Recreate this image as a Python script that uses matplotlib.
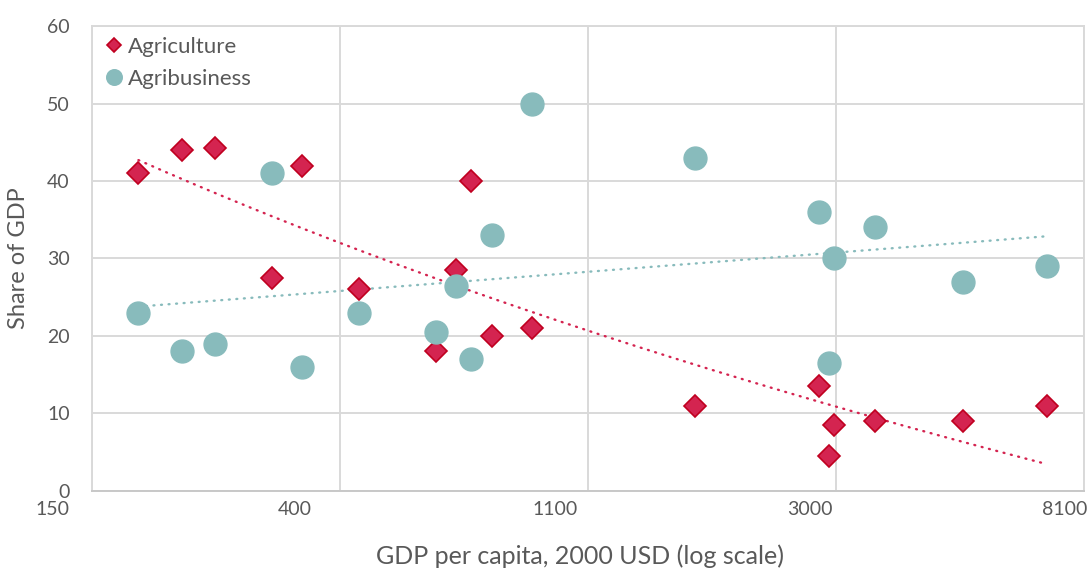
import matplotlib.pyplot as plt
import matplotlib.transforms as mtransforms
import numpy as np

plt.rcParams['font.family'] = ['Lato', 'DejaVu Sans']

# GDP per capita (2000 USD) for each country, shared by both series
gdp = [179, 213, 244, 307, 346, 436, 594, 644, 684, 745, 875,
       1688, 2783, 2899, 2957, 3488, 4974, 6980]
agriculture = [41, 44, 44.2, 27.5, 42, 26, 18, 28.5, 40, 20, 21,
               11, 13.5, 4.5, 8.5, 9, 9, 11]
agribusiness = [23, 18, 19, 41, 16, 23, 20.5, 26.5, 17, 33, 50,
                43, 36, 16.5, 30, 34, 27, 29]

# axis is ln(GDP) from 5 to 9, labelled with rounded exp values
log_ticks = [5, 6, 7, 8, 9]
xticklabels = ['150', '400', '1100', '3000', '8100']
label_shift_px = [-39, -45, -33, -26, -19]

red = '#D42450'
red_edge = '#C00020'
teal = '#88BBBC'
txt = '#595959'
grid = '#D9D9D9'

fig = plt.figure(figsize=(10.92, 5.68), dpi=100)
ax = fig.add_axes([0.0842, 0.1356, 0.9085, 0.8186])

u = np.log(np.array(gdp, dtype=float))
ya = np.array(agriculture)
yb = np.array(agribusiness)

# Excel trendlines on the plotted x (= ln GDP): logarithmic for agriculture,
# linear for agribusiness
us = np.linspace(u.min(), u.max(), 200)
pa = np.polyfit(np.log(u), ya, 1)
ax.plot(us, np.polyval(pa, np.log(us)), color=red, lw=1.7, dashes=(0.4, 2.8),
        dash_capstyle='round', zorder=2)
pb = np.polyfit(u, yb, 1)
ax.plot(us, np.polyval(pb, us), color=teal, lw=1.7, dashes=(0.4, 2.8),
        dash_capstyle='round', zorder=2)

ax.plot(u, ya, 'D', ms=11, mfc=red, mec=red_edge, mew=1.2, ls='none',
        label='Agriculture', zorder=3)
ax.plot(u, yb, 'o', ms=16.5, mfc=teal, mec=teal, ls='none',
        label='Agribusiness', zorder=3)

ax.set_xlim(log_ticks[0], log_ticks[-1])
ax.set_ylim(0, 60)
ax.set_xticks(log_ticks)
ax.set_xticklabels(xticklabels)
ax.set_yticks(range(0, 61, 10))

ax.grid(True, color=grid, lw=1.4)
ax.set_axisbelow(True)
for s in ax.spines.values():
    s.set_color(grid)
    s.set_linewidth(1.4)
ax.spines['bottom'].set_color('#C8C8C8')
ax.tick_params(length=0, labelsize=14, colors=txt)
ax.tick_params(axis='y', pad=16)
ax.tick_params(axis='x', pad=7)

# Excel puts the x tick labels slightly left of their gridlines
for lab, dx in zip(ax.get_xticklabels(), label_shift_px):
    lab.set_transform(lab.get_transform() +
                      mtransforms.ScaledTranslation(dx / 100, 0, fig.dpi_scale_trans))

ax.set_xlabel('GDP per capita, 2000 USD (log scale)', fontsize=18, color=txt)
ax.xaxis.set_label_coords(0.492, -0.115)
ax.set_ylabel('Share of GDP', fontsize=17, color=txt)
ax.yaxis.set_label_coords(-0.063, 0.5)

leg = ax.legend(loc='upper left', bbox_to_anchor=(-0.011, 1.02), frameon=False,
                fontsize=16, handletextpad=0.0, handlelength=1.2,
                labelspacing=0.55, markerscale=0.68)
for t in leg.get_texts():
    t.set_color(txt)

fig.savefig('out.png', dpi=100)
